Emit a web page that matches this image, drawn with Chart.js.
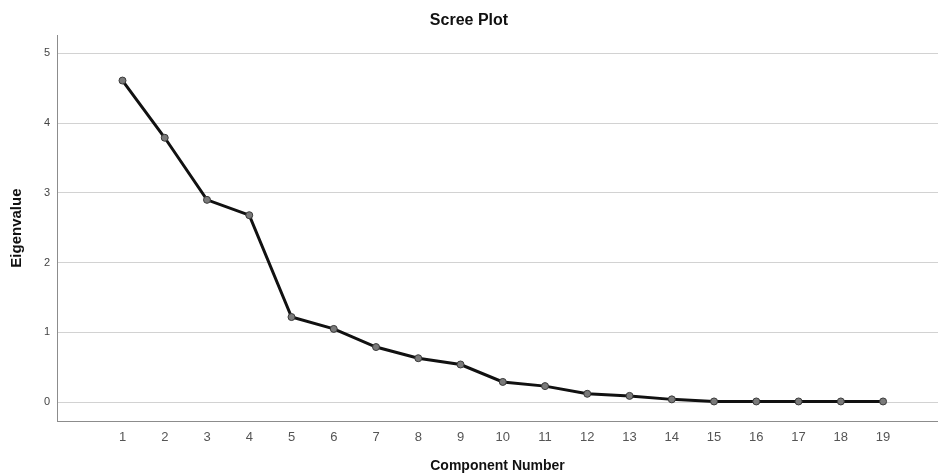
<!DOCTYPE html>
<html>
<head>
<meta charset="utf-8">
<script src="https://cdn.jsdelivr.net/npm/chart.js@4"></script>
<style>
  body { margin: 0; background: #fff; }
</style>
</head>
<body>
<canvas id="screeChart" width="938" height="476"></canvas>
<script>
var components = [1, 2, 3, 4, 5, 6, 7, 8, 9, 10, 11, 12, 13, 14, 15, 16, 17, 18, 19];
var eigenvalues = [4.61, 3.79, 2.90, 2.68, 1.22, 1.05, 0.79, 0.63, 0.54, 0.29, 0.23, 0.12, 0.09, 0.04, 0.01, 0.01, 0.01, 0.01, 0.01];
var yTicks = [0, 1, 2, 3, 4, 5];

var points = components.map(function (c, i) { return { x: c, y: eigenvalues[i] }; });

var ctx = document.getElementById("screeChart").getContext("2d");
var screeChart = new Chart(ctx, {
  type: 'line',
  data: {
    datasets: [{
      label: 'Eigenvalue',
      data: points,
      borderColor: '#111111',
      borderWidth: 3,
      tension: 0,
      pointRadius: 3.5,
      pointBackgroundColor: '#7a7a7a',
      pointBorderColor: '#3a3a3a',
      pointBorderWidth: 1
    }]
  },
  options: {
    responsive: false,
    animation: false,
    layout: { padding: 0, autoPadding: false },
    plugins: {
      legend: { display: false },
      tooltip: { enabled: false },
      title: {
        display: true,
        text: 'Scree Plot',
        color: '#111',
        font: { family: 'Liberation Sans, Arial, sans-serif', size: 16, weight: 'bold' },
        padding: { top: 11, bottom: 5 }
      }
    },
    scales: {
      x: {
        type: 'linear',
        min: -0.55,
        max: 20.3,
        afterBuildTicks: function (scale) {
          scale.ticks = components.map(function (c) { return { value: c }; });
        },
        afterFit: function (scale) { scale.height = 55; },
        grid: { display: false, drawTicks: false },
        border: { display: true, color: '#8c8c8c', width: 1 },
        ticks: {
          padding: 9,
          color: '#555',
          font: { family: 'Liberation Sans, Arial, sans-serif', size: 13 },
          maxRotation: 0,
          autoSkip: false
        },
        title: {
          display: true,
          text: 'Component Number',
          color: '#111',
          font: { family: 'Liberation Sans, Arial, sans-serif', size: 14, weight: 'bold' },
          padding: { top: 0, bottom: 1 }
        }
      },
      y: {
        min: -0.27,
        max: 5.26,
        afterBuildTicks: function (scale) {
          scale.ticks = yTicks.map(function (v) { return { value: v }; });
        },
        afterFit: function (scale) { scale.width = 57; },
        grid: { color: '#d2d2d2', lineWidth: 1, drawTicks: false },
        border: { display: true, color: '#8c8c8c', width: 1 },
        ticks: {
          padding: 7,
          color: '#444',
          font: { family: 'Liberation Sans, Arial, sans-serif', size: 11 }
        },
        title: {
          display: true,
          text: 'Eigenvalue',
          color: '#111',
          font: { family: 'Liberation Sans, Arial, sans-serif', size: 15, weight: 'bold' },
          padding: { top: 8, bottom: 0 }
        }
      }
    }
  }
});
</script>
</body>
</html>
